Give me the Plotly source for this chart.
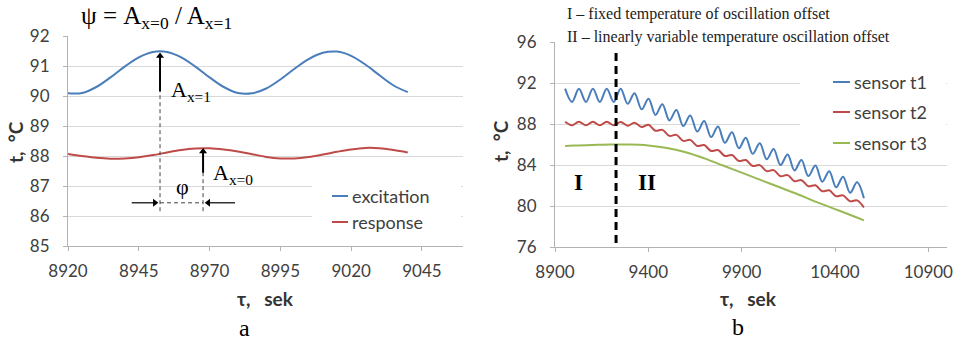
import plotly.graph_objects as go

W, H = 957, 341

# ---------------- data: panel a ----------------
time_a = [8920, 8925, 8930, 8935, 8940, 8945, 8950, 8955, 8960, 8965, 8970, 8975, 8980,
          8985, 8990, 8995, 9000, 9005, 9010, 9015, 9020, 9025, 9030, 9035, 9040]
excitation = [90.09, 90.10, 90.30, 90.62, 90.98, 91.29, 91.47, 91.47, 91.29, 90.98, 90.62, 90.30, 90.10,
              90.09, 90.25, 90.55, 90.91, 91.23, 91.44, 91.48, 91.34, 91.05, 90.69, 90.35, 90.13]
response = [88.07, 88.00, 87.94, 87.91, 87.92, 87.96, 88.03, 88.12, 88.20, 88.25, 88.26, 88.22, 88.15,
            88.06, 87.97, 87.92, 87.92, 87.97, 88.05, 88.14, 88.22, 88.27, 88.26, 88.20, 88.12]
xticks_a = [8920, 8945, 8970, 8995, 9020, 9045]
yticks_a = [85, 86, 87, 88, 89, 90, 91, 92]
peak_exc_time, peak_resp_time = 8952.5, 8967.7

# ---------------- data: panel b ----------------
time_b = [8954, 8991, 9028, 9066, 9103, 9140, 9177, 9215, 9252, 9289, 9326, 9364, 9401, 9438, 9475,
          9513, 9550, 9587, 9624, 9662, 9699, 9736, 9773, 9810, 9848, 9885, 9922, 9959, 9997, 10034,
          10071, 10108, 10146, 10183, 10220, 10257, 10295, 10332, 10369, 10406, 10443, 10481, 10518, 10555]
sensor_t1 = [91.45, 90.15, 91.45, 90.15, 91.45, 90.15, 91.45, 90.15, 91.45, 89.97, 91.00, 89.43, 90.46,
             88.89, 89.92, 88.35, 89.37, 87.80, 88.83, 87.26, 88.29, 86.72, 87.75, 86.17, 87.20, 85.63,
             86.66, 85.09, 86.12, 84.55, 85.57, 84.00, 85.03, 83.46, 84.49, 82.92, 83.95, 82.37, 83.40,
             81.83, 82.86, 81.29, 82.32, 80.75]
sensor_t2 = [88.22, 87.88, 88.22, 87.88, 88.22, 87.88, 88.22, 87.88, 88.20, 87.83, 88.13, 87.70, 87.92,
             87.34, 87.43, 86.84, 86.94, 86.35, 86.45, 85.86, 85.95, 85.37, 85.46, 84.88, 84.97, 84.39,
             84.48, 83.90, 83.99, 83.40, 83.50, 82.91, 83.01, 82.42, 82.52, 81.93, 82.02, 81.44, 81.53,
             80.95, 81.04, 80.46, 80.55, 79.85]
time_t3 = [8954, 9000, 9100, 9200, 9300, 9350, 9400, 9500, 9600, 9700, 9800, 9900, 10000, 10100,
           10200, 10300, 10400, 10500, 10555]
sensor_t3 = [85.85, 85.90, 85.95, 86.00, 86.00, 85.97, 85.90, 85.65, 85.25, 84.65, 83.95, 83.25, 82.55,
             81.85, 81.15, 80.40, 79.70, 79.00, 78.60]
xticks_b = [8900, 9400, 9900, 10400, 10900]
yticks_b = [76, 80, 84, 88, 92, 96]
boundary_time = 9227

BLUE, RED, GREEN = "#4a7ebb", "#be4b48", "#98b954"
SANS, SERIF = "Lato", "Liberation Serif"
GRID, AXIS, TICKC = "#d9d9d9", "#b3b3b3", "#404040"


def px(x):
    return x / W


def py(y):
    return 1 - y / H


fig = go.Figure()
fig.add_trace(go.Scatter(x=time_a, y=excitation, mode="lines", line=dict(color=BLUE, width=2, shape="spline"),
                         xaxis="x", yaxis="y", showlegend=False))
fig.add_trace(go.Scatter(x=time_a, y=response, mode="lines", line=dict(color=RED, width=2, shape="spline"),
                         xaxis="x", yaxis="y", showlegend=False))
fig.add_trace(go.Scatter(x=time_b, y=sensor_t1, mode="lines", line=dict(color=BLUE, width=2, shape="spline"),
                         xaxis="x2", yaxis="y2", showlegend=False))
fig.add_trace(go.Scatter(x=time_b, y=sensor_t2, mode="lines", line=dict(color=RED, width=2, shape="spline"),
                         xaxis="x2", yaxis="y2", showlegend=False))
fig.add_trace(go.Scatter(x=time_t3, y=sensor_t3, mode="lines", line=dict(color=GREEN, width=2, shape="spline"),
                         xaxis="x2", yaxis="y2", showlegend=False))

# arrowheads (markers) for panel a: tips at peaks / phase markers
XA_PX = 395 / (9059.5 - 8920)   # pixels per second on panel a
YA_PX = 210 / 7                 # pixels per degree on panel a
HEAD = 7
r = HEAD / 2
fig.add_trace(go.Scatter(
    x=[peak_exc_time, peak_resp_time], y=[91.45 - r / YA_PX, 88.27 - r / YA_PX], mode="markers",
    marker=dict(symbol="triangle-up", size=HEAD, color="black"), xaxis="x", yaxis="y",
    showlegend=False, hoverinfo="skip"))
fig.add_trace(go.Scatter(
    x=[peak_exc_time - 0.6 - r / XA_PX], y=[86.44], mode="markers",
    marker=dict(symbol="triangle-right", size=HEAD, color="black"), xaxis="x", yaxis="y",
    showlegend=False, hoverinfo="skip"))
fig.add_trace(go.Scatter(
    x=[peak_resp_time + 0.6 + r / XA_PX], y=[86.44], mode="markers",
    marker=dict(symbol="triangle-left", size=HEAD, color="black"), xaxis="x", yaxis="y",
    showlegend=False, hoverinfo="skip"))

axis_common = dict(showline=True, linecolor=AXIS, linewidth=1, ticks="outside", ticklen=4, tickcolor=AXIS,
                   tickfont=dict(family=SANS, size=17, color=TICKC), zeroline=False, automargin=False)

fig.update_layout(
    template="none",
    width=W, height=H, margin=dict(l=0, r=0, t=0, b=0, autoexpand=False),
    paper_bgcolor="white", plot_bgcolor="white",
    xaxis=dict(domain=[px(68), px(463)], range=[8920, 9059.5], tickvals=xticks_a,
               ticktext=[str(v) for v in xticks_a], showgrid=False,
               anchor="y", ticklabelstandoff=6, **axis_common),
    yaxis=dict(domain=[py(246), py(36)], range=[85, 92], tickvals=yticks_a,
               ticktext=[str(v) for v in yticks_a], showgrid=True, gridcolor=GRID,
               anchor="x", ticklabelstandoff=10, **axis_common),
    xaxis2=dict(domain=[px(555), px(947)], range=[8900, 11000], tickvals=xticks_b,
                ticktext=[str(v) for v in xticks_b], showgrid=False,
                anchor="y2", ticklabelstandoff=6, **axis_common),
    yaxis2=dict(domain=[py(247), py(42)], range=[76, 96], tickvals=yticks_b,
                ticktext=[str(v) for v in yticks_b], showgrid=True, gridcolor=GRID,
                anchor="x2", ticklabelstandoff=10, **axis_common),
)

shapes = []
ann = []

# ----- panel a annotations -----
dash_line = dict(color="#444444", width=1, dash="4px,3px")
solid = dict(color="black", width=2)
shapes.append(dict(type="line", xref="x", yref="y", x0=peak_exc_time, x1=peak_exc_time, y0=86.16, y1=90.15, line=dash_line))
shapes.append(dict(type="line", xref="x", yref="y", x0=peak_resp_time, x1=peak_resp_time, y0=86.16, y1=87.44, line=dash_line))
shapes.append(dict(type="line", xref="x", yref="y", x0=peak_exc_time, x1=peak_resp_time, y0=86.44, y1=86.44, line=dash_line))
shapes.append(dict(type="line", xref="x", yref="y", x0=peak_exc_time, x1=peak_exc_time, y0=90.15, y1=91.3, line=solid))
shapes.append(dict(type="line", xref="x", yref="y", x0=peak_resp_time, x1=peak_resp_time, y0=87.44, y1=88.12, line=solid))
shapes.append(dict(type="line", xref="x", yref="y", x0=8942.5, x1=8950.5, y0=86.44, y1=86.44,
                   line=dict(color="black", width=1.2)))
shapes.append(dict(type="line", xref="x", yref="y", x0=8969.7, x1=8979.0, y0=86.44, y1=86.44,
                   line=dict(color="black", width=1.2)))

serif22 = dict(family=SERIF, size=22, color="black")
ann.append(dict(x=px(156), y=py(18), xref="paper", yref="paper", xanchor="center", yanchor="middle",
                text="ψ = A<sub>x=0</sub> / A<sub>x=1</sub>", showarrow=False,
                font=dict(family=SERIF, size=25, color="black")))
ann.append(dict(x=px(169), y=py(91), xref="paper", yref="paper", xanchor="left", yanchor="middle",
                text="A<sub>x=1</sub>", showarrow=False, font=serif22))
ann.append(dict(x=px(211), y=py(174), xref="paper", yref="paper", xanchor="left", yanchor="middle",
                text="A<sub>x=0</sub>", showarrow=False, font=serif22))
ann.append(dict(x=px(182), y=py(186), xref="paper", yref="paper", xanchor="center", yanchor="middle",
                text="φ", showarrow=False, font=serif22))

# legend a (drawn)
shapes.append(dict(type="rect", xref="paper", yref="paper", x0=px(312), x1=px(461), y0=py(240), y1=py(178),
                   fillcolor="white", line=dict(width=0), layer="above"))
for yy, col, name in [(196, BLUE, "excitation"), (222, RED, "response")]:
    shapes.append(dict(type="line", xref="paper", yref="paper", x0=px(332), x1=px(348), y0=py(yy), y1=py(yy),
                       line=dict(color=col, width=2), layer="above"))
    ann.append(dict(x=px(350), y=py(yy), xref="paper", yref="paper", xanchor="left", yanchor="middle",
                    text=name, showarrow=False, font=dict(family=SANS, size=18, color=TICKC)))

# axis titles a
ann.append(dict(x=px(15), y=py(142), xref="paper", yref="paper", xanchor="center", yanchor="middle",
                text="<b>t,  °C</b>", textangle=-90, showarrow=False, font=dict(family=SANS, size=19, color="#333")))
ann.append(dict(x=px(265), y=py(298), xref="paper", yref="paper", xanchor="center", yanchor="middle",
                text="<b>τ,   sek</b>", showarrow=False, font=dict(family=SANS, size=19, color="#333")))
ann.append(dict(x=px(244), y=py(328), xref="paper", yref="paper", xanchor="center", yanchor="middle",
                text="a", showarrow=False, font=dict(family=SERIF, size=24, color="black")))

# ----- panel b annotations -----
shapes.append(dict(type="line", xref="x2", yref="y2", x0=boundary_time, x1=boundary_time, y0=76.4, y1=95.4,
                   line=dict(color="black", width=3, dash="8px,5px"), layer="above"))
ann.append(dict(x=px(565), y=py(14), xref="paper", yref="paper", xanchor="left", yanchor="middle",
                text="I – fixed temperature of oscillation offset", showarrow=False,
                font=dict(family=SERIF, size=16, color="#222")))
ann.append(dict(x=px(565), y=py(37), xref="paper", yref="paper", xanchor="left", yanchor="middle",
                text="II – linearly variable temperature oscillation offset", showarrow=False,
                font=dict(family=SERIF, size=16, color="#222")))
ann.append(dict(x=px(578), y=py(182), xref="paper", yref="paper", xanchor="center", yanchor="middle",
                text="<b>I</b>", showarrow=False, font=dict(family=SERIF, size=23, color="black")))
ann.append(dict(x=px(647), y=py(182), xref="paper", yref="paper", xanchor="center", yanchor="middle",
                text="<b>II</b>", showarrow=False, font=dict(family=SERIF, size=23, color="black")))

shapes.append(dict(type="rect", xref="paper", yref="paper", x0=px(800), x1=px(946), y0=py(153), y1=py(62),
                   fillcolor="white", line=dict(width=0), layer="above"))
for yy, col, name in [(82, BLUE, "sensor t1"), (112, RED, "sensor t2"), (143, GREEN, "sensor t3")]:
    shapes.append(dict(type="line", xref="paper", yref="paper", x0=px(833), x1=px(850), y0=py(yy), y1=py(yy),
                       line=dict(color=col, width=2), layer="above"))
    ann.append(dict(x=px(852), y=py(yy), xref="paper", yref="paper", xanchor="left", yanchor="middle",
                    text=name, showarrow=False, font=dict(family=SANS, size=18, color=TICKC)))

ann.append(dict(x=px(500), y=py(141), xref="paper", yref="paper", xanchor="center", yanchor="middle",
                text="<b>t,  °C</b>", textangle=-90, showarrow=False, font=dict(family=SANS, size=19, color="#333")))
ann.append(dict(x=px(748), y=py(298), xref="paper", yref="paper", xanchor="center", yanchor="middle",
                text="<b>τ,   sek</b>", showarrow=False, font=dict(family=SANS, size=19, color="#333")))
ann.append(dict(x=px(738), y=py(327), xref="paper", yref="paper", xanchor="center", yanchor="middle",
                text="b", showarrow=False, font=dict(family=SERIF, size=24, color="black")))

fig.update_layout(shapes=shapes, annotations=ann)
fig.write_html("out.html")
